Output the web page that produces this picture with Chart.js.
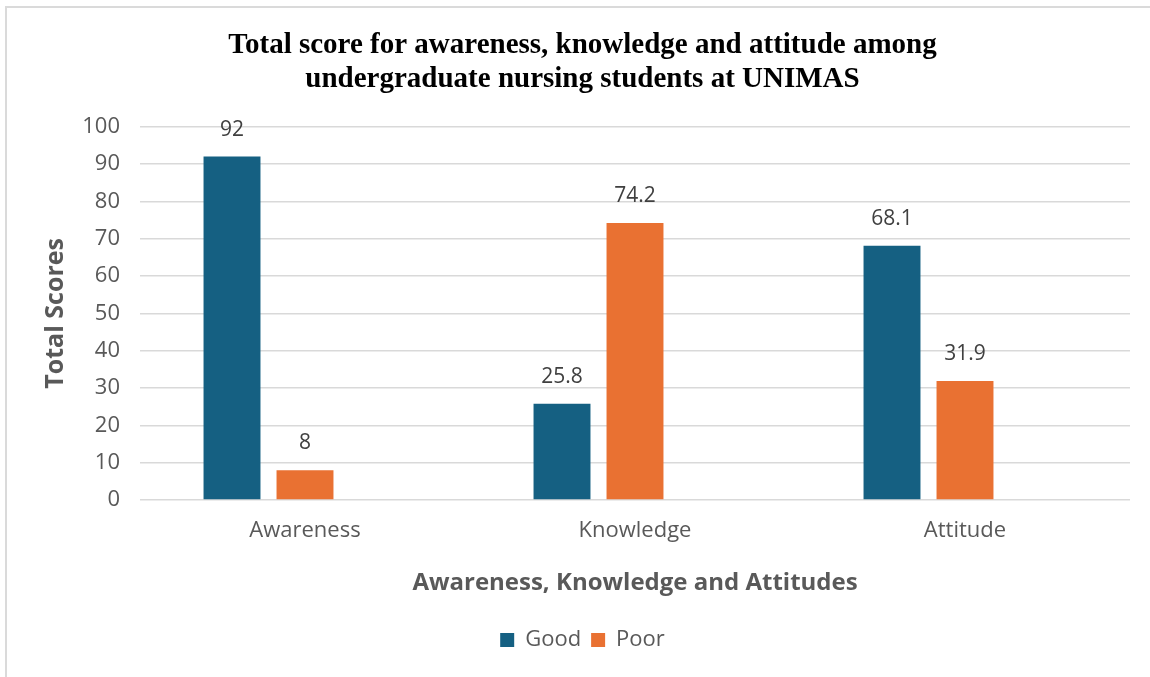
<!DOCTYPE html>
<html>
<head>
<meta charset="utf-8">
<script src="https://cdn.jsdelivr.net/npm/chart.js@4"></script>
<style>
  body { margin: 0; background: #fff; }
  #frame { position: absolute; left: 5px; top: 6px; width: 1200px; height: 720px; border-left: 2px solid #dadada; border-top: 2px solid #dadada; }
  #wrap { position: absolute; left: 0; top: 0; width: 1150px; height: 677px; }
</style>
</head>
<body>
<div id="frame"></div>
<div id="wrap"><canvas id="grafico"></canvas></div>
<script>
// dados do gráfico
const categorias = ['Awareness', 'Knowledge', 'Attitude'];
const good = [92, 25.8, 68.1];
const poor = [8, 74.2, 31.9];
// terceira série vazia (no original ocupa um espaço no grupo)
const vazia = [null, null, null];
const titulo = ['Total score for awareness, knowledge and attitude among', 'undergraduate nursing students at UNIMAS'];

const fonte = "'Open Sans', sans-serif";

// rótulos de valor acima das barras
const rotulos = {
    id: 'rotulos',
    afterDatasetsDraw(chart) {
        const ctx = chart.ctx;
        ctx.save();
        ctx.font = '21px ' + fonte;
        ctx.fillStyle = '#404040';
        ctx.textAlign = 'center';
        ctx.textBaseline = 'middle';
        chart.data.datasets.forEach((ds, i) => {
            chart.getDatasetMeta(i).data.forEach((bar, j) => {
                if (ds.data[j] == null) return;
                ctx.fillText(String(ds.data[j]), bar.x, bar.y - 27);
            });
        });
        ctx.restore();
    }
};

const ctx = document.getElementById('grafico').getContext('2d');
new Chart(ctx, {
    type: 'bar',
    data: {
        labels: categorias,
        datasets: [
            { label: 'Good', data: good, backgroundColor: '#156082' },
            { label: 'Poor', data: poor, backgroundColor: '#E97132' },
            { label: '', data: vazia, backgroundColor: 'rgba(0,0,0,0)' }
        ]
    },
    options: {
        responsive: true,
        maintainAspectRatio: false,
        animation: false,
        categoryPercentage: 0.6636,
        barPercentage: 0.78,
        layout: { padding: { left: 35, right: 20, top: 0, bottom: 16 } },
        plugins: {
            title: {
                display: true,
                text: titulo,
                color: '#000',
                font: { family: "'Liberation Serif', serif", size: 29, weight: 'bold', lineHeight: 1.15 },
                padding: { top: 29, bottom: 31 }
            },
            legend: {
                position: 'bottom',
                labels: {
                    color: '#595959', font: { family: fonte, size: 22 }, boxWidth: 14, boxHeight: 14, padding: 10,
                    filter: item => item.text !== ''
                }
            },
            tooltip: { enabled: false }
        },
        scales: {
            x: {
                grid: { display: false, drawTicks: false },
                border: { display: false },
                ticks: { color: '#595959', font: { family: fonte, size: 22 }, padding: 18 },
                title: { display: true, text: 'Awareness, Knowledge and Attitudes', color: '#595959', font: { family: fonte, size: 24, weight: 'bold' }, padding: { top: 0, bottom: 21 } },
                afterFit(s) { s.height = 119; }
            },
            y: {
                min: 0, max: 100,
                ticks: { stepSize: 10, color: '#595959', font: { family: fonte, size: 22 }, padding: 20 },
                grid: { color: '#d9d9d9', lineWidth: 1.5, drawTicks: false },
                border: { display: false },
                title: { display: true, text: 'Total Scores', color: '#595959', font: { family: fonte, size: 25, weight: 'bold' }, padding: 6 },
                afterFit(s) { s.width = 105; }
            }
        }
    },
    plugins: [rotulos]
});
</script>
</body>
</html>
